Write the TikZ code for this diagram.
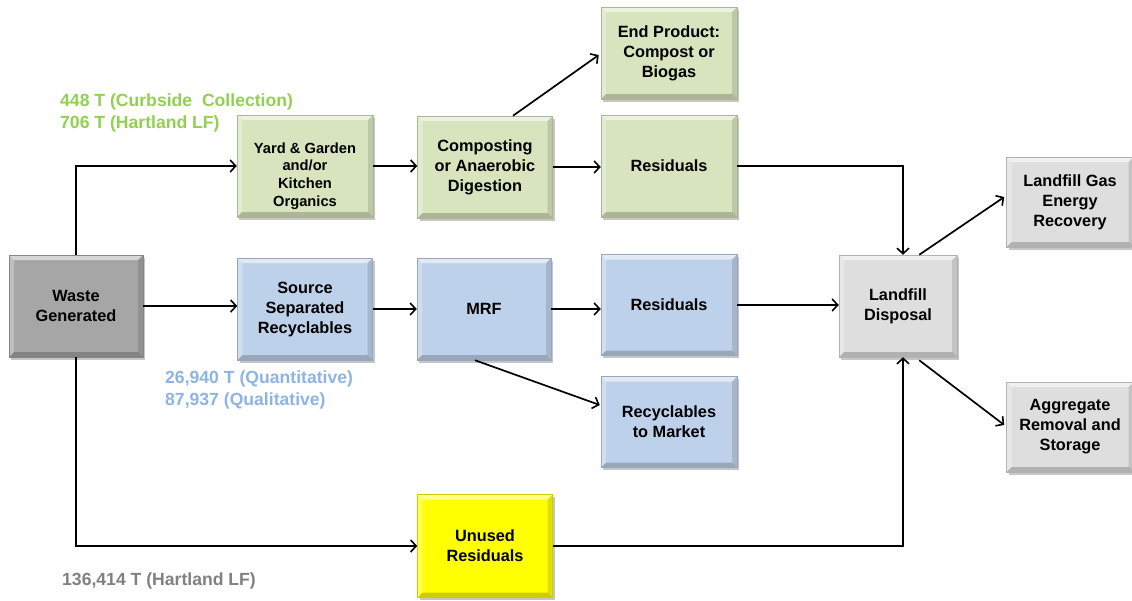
\documentclass[tikz,border=0pt]{standalone}
\usepackage{fontspec}
\setmainfont{Liberation Sans}
\usetikzlibrary{arrows.meta,shadows,calc}

\definecolor{orgfill}{RGB}{215,228,189}
\definecolor{recfill}{RGB}{190,209,234}
\definecolor{wastefill}{RGB}{166,166,166}
\definecolor{lffill}{RGB}{222,222,222}
\definecolor{unusedfill}{RGB}{255,255,0}
\definecolor{labgreen}{RGB}{146,208,80}
\definecolor{labblue}{RGB}{141,180,226}
\definecolor{labgray}{RGB}{128,128,128}

\tikzset{
  bevel/.style={path picture={
    \path (path picture bounding box.north west) coordinate (bnw)
          (path picture bounding box.south east) coordinate (bse)
          (path picture bounding box.north east) coordinate (bne)
          (path picture bounding box.south west) coordinate (bsw);
    \fill[white,opacity=.55] (bnw) -- (bne) -- ([shift={(-5pt,-5pt)}]bne) -- ([shift={(5pt,-5pt)}]bnw) -- cycle;
    \fill[white,opacity=.3] (bnw) -- (bsw) -- ([shift={(5pt,5pt)}]bsw) -- ([shift={(5pt,-5pt)}]bnw) -- cycle;
    \fill[black,opacity=.2] (bsw) -- (bse) -- ([shift={(-5pt,5pt)}]bse) -- ([shift={(5pt,5pt)}]bsw) -- cycle;
    \fill[black,opacity=.12] (bne) -- (bse) -- ([shift={(-5pt,5pt)}]bse) -- ([shift={(-5pt,-5pt)}]bne) -- cycle;
  }},
  box/.style={rectangle, fill=#1, draw=#1!80!black, line width=0.5pt,
    drop shadow={shadow xshift=2pt, shadow yshift=-2.5pt, opacity=.45},
    bevel, inner sep=0pt, align=center,
    font=\bfseries\fontsize{16.3}{20}\selectfont},
  boxtext/.style={inner sep=0pt, align=center, font=\bfseries\fontsize{14.7}{17.8}\selectfont},
  flow/.style={line width=1.7pt, -{Straight Barb[length=5.5pt,width=12pt,line width=1.6pt]}},
  lbl/.style={anchor=base west, inner sep=0pt, font=\bfseries\fontsize{17.6}{22}\selectfont},
}

\begin{document}
\begin{tikzpicture}[x=1pt,y=-1pt]
\useasboundingbox (0,0) rectangle (1132,600);
\clip (0,0) rectangle (1132,600);

% process boxes
\node[box=wastefill, minimum width=134pt, minimum height=102pt] (waste) at (76,306) {Waste\\Generated};
\node[box=orgfill, minimum width=136pt, minimum height=102pt] (yard) at (305,166) {};
\node[boxtext] (yardtext) at (305,176) {Yard \& Garden\\and/or\\Kitchen\\Organics};
\node[box=recfill, minimum width=135pt, minimum height=102pt] (source) at (305,309) {Source\\Separated\\Recyclables};
\node[box=orgfill, minimum width=135pt, minimum height=102pt] (comp) at (485,167) {Composting\\or Anaerobic\\Digestion};
\node[box=recfill, minimum width=134pt, minimum height=102pt] (mrf) at (484,309) {MRF};
\node[box=orgfill, minimum width=136pt, minimum height=92pt] (endp) at (669,53) {End Product:\\Compost or\\Biogas};
\node[box=orgfill, minimum width=136pt, minimum height=102pt] (res1) at (669,166) {Residuals};
\node[box=recfill, minimum width=136pt, minimum height=101pt] (res2) at (669,305) {Residuals};
\node[box=recfill, minimum width=136pt, minimum height=91pt] (recyc) at (669,422) {Recyclables\\to Market};
\node[box=unusedfill, minimum width=135pt, minimum height=103pt] (unused) at (485,546) {Unused\\Residuals};
\node[box=lffill, minimum width=118pt, minimum height=102pt] (landfill) at (898,306) {Landfill\\Disposal};
\node[box=lffill, minimum width=127pt, minimum height=90pt] (gas) at (1070,202) {Landfill Gas\\Energy\\Recovery};
\node[box=lffill, minimum width=127pt, minimum height=90pt] (agg) at (1070,427) {Aggregate\\Removal and\\Storage};

% tonnage labels
\node[lbl, text=labgreen] (g1) at (60,106) {448 T (Curbside\ \ Collection)};
\node[lbl, text=labgreen] (g2) at (60,128) {706 T (Hartland LF)};
\node[lbl, text=labblue] (b1) at (165,383) {26,940 T (Quantitative)};
\node[lbl, text=labblue] (b2) at (165,405) {87,937 (Qualitative)};
\node[lbl, text=labgray] (k1) at (62,585) {136,414 T (Hartland LF)};

% flows out of the generated waste
\draw[flow] (waste.north) |- (yard.west);
\draw[flow] (waste.east) -- (waste.east -| source.west);
\draw[flow] (waste.south) |- (unused.west);

% organics stream
\draw[flow] (yard.east) -- (yard.east -| comp.west);
\draw[flow] (comp.east) -- (comp.east -| res1.west);
\draw[flow] ($(comp.north)+(28,0)$) -- ($(endp.west)+(-2,2)$);

% recyclables stream
\draw[flow] (source.east) -- (mrf.west);
\draw[flow] (mrf.east) -- (mrf.east -| res2.west);
\draw[flow] ($(mrf.south)+(-9,0)$) -- ($(recyc.west)+(-1,-17)$);

% everything left over goes to the landfill
\draw[flow] (res1.east) -| ($(landfill.north)+(5,0)$);
\draw[flow] (res2.east) -- (res2.east -| landfill.west);
\draw[flow] (unused.east) -| ($(landfill.south)+(5,0)$);

% landfill outputs
\draw[flow] ($(landfill.north east)+(-38,0)$) -- ($(gas.west)+(-2,-5)$);
\draw[flow] ($(landfill.south east)+(-38,3)$) -- ($(agg.west)+(-2,-2)$);
\end{tikzpicture}
\end{document}
